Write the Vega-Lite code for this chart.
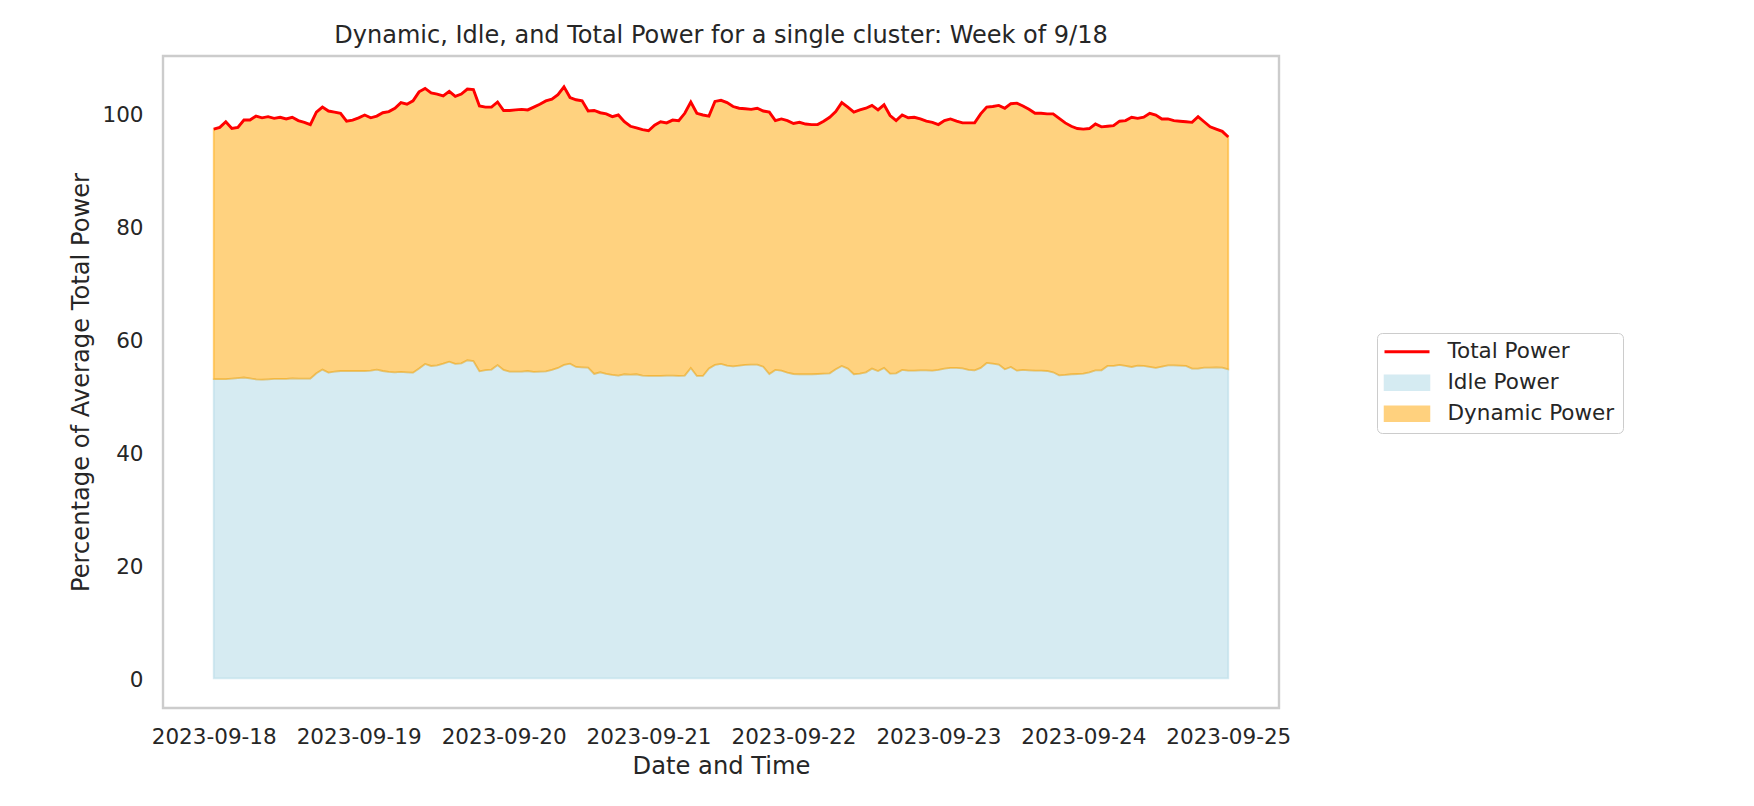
{
  "$schema": "https://vega.github.io/schema/vega-lite/v6.json",
  "width": 1116,
  "height": 652,
  "autosize": {"type": "none"},
  "padding": {"left": 163, "top": 56, "right": 475, "bottom": 98},
  "background": "white",
  "title": {
    "text": "Dynamic, Idle, and Total Power for a single cluster: Week of 9/18",
    "anchor": "middle",
    "frame": "group",
    "baseline": "alphabetic",
    "offset": -11,
    "font": "DejaVu Sans",
    "fontSize": 24,
    "fontWeight": "normal",
    "color": "#262626"
  },
  "config": {
    "view": {"stroke": "#cccccc", "strokeWidth": 2.4},
    "font": "DejaVu Sans",
    "axis": {
      "labelFont": "DejaVu Sans",
      "titleFont": "DejaVu Sans",
      "labelColor": "#262626",
      "titleColor": "#262626",
      "labelFontSize": 21.5,
      "titleFontSize": 24.2,
      "titleFontWeight": "normal",
      "grid": false,
      "domain": false,
      "ticks": false,
      "tickSize": 0,
      "labelFlush": false,
      "labelOverlap": false
    }
  },
  "data": {
    "values": [
      {"t": "2023-09-18T00:00", "total": 97.3, "idle": 53.0},
      {"t": "2023-09-18T01:00", "total": 97.6, "idle": 53.0},
      {"t": "2023-09-18T02:00", "total": 98.6, "idle": 53.0},
      {"t": "2023-09-18T03:00", "total": 97.4, "idle": 53.1},
      {"t": "2023-09-18T04:00", "total": 97.6, "idle": 53.2},
      {"t": "2023-09-18T05:00", "total": 98.9, "idle": 53.3},
      {"t": "2023-09-18T06:00", "total": 98.9, "idle": 53.15},
      {"t": "2023-09-18T07:00", "total": 99.6, "idle": 52.97},
      {"t": "2023-09-18T08:00", "total": 99.3, "idle": 52.92},
      {"t": "2023-09-18T09:00", "total": 99.5, "idle": 52.97},
      {"t": "2023-09-18T10:00", "total": 99.2, "idle": 53.04},
      {"t": "2023-09-18T11:00", "total": 99.4, "idle": 53.04},
      {"t": "2023-09-18T12:00", "total": 99.1, "idle": 53.04},
      {"t": "2023-09-18T13:00", "total": 99.4, "idle": 53.15},
      {"t": "2023-09-18T14:00", "total": 98.8, "idle": 53.1},
      {"t": "2023-09-18T15:00", "total": 98.5, "idle": 53.1},
      {"t": "2023-09-18T16:00", "total": 98.1, "idle": 53.1},
      {"t": "2023-09-18T17:00", "total": 100.3, "idle": 54.04},
      {"t": "2023-09-18T18:00", "total": 101.2, "idle": 54.7},
      {"t": "2023-09-18T19:00", "total": 100.5, "idle": 54.16},
      {"t": "2023-09-18T20:00", "total": 100.3, "idle": 54.34},
      {"t": "2023-09-18T21:00", "total": 100.1, "idle": 54.45},
      {"t": "2023-09-18T22:00", "total": 98.7, "idle": 54.45},
      {"t": "2023-09-18T23:00", "total": 98.9, "idle": 54.45},
      {"t": "2023-09-19T00:00", "total": 99.3, "idle": 54.45},
      {"t": "2023-09-19T01:00", "total": 99.8, "idle": 54.45},
      {"t": "2023-09-19T02:00", "total": 99.3, "idle": 54.51},
      {"t": "2023-09-19T03:00", "total": 99.6, "idle": 54.7},
      {"t": "2023-09-19T04:00", "total": 100.2, "idle": 54.45},
      {"t": "2023-09-19T05:00", "total": 100.4, "idle": 54.28},
      {"t": "2023-09-19T06:00", "total": 101.0, "idle": 54.22},
      {"t": "2023-09-19T07:00", "total": 102.0, "idle": 54.28},
      {"t": "2023-09-19T08:00", "total": 101.7, "idle": 54.22},
      {"t": "2023-09-19T09:00", "total": 102.3, "idle": 54.16},
      {"t": "2023-09-19T10:00", "total": 103.9, "idle": 54.9},
      {"t": "2023-09-19T11:00", "total": 104.5, "idle": 55.7},
      {"t": "2023-09-19T12:00", "total": 103.7, "idle": 55.34},
      {"t": "2023-09-19T13:00", "total": 103.5, "idle": 55.46},
      {"t": "2023-09-19T14:00", "total": 103.2, "idle": 55.75},
      {"t": "2023-09-19T15:00", "total": 104.0, "idle": 56.1},
      {"t": "2023-09-19T16:00", "total": 103.1, "idle": 55.7},
      {"t": "2023-09-19T17:00", "total": 103.5, "idle": 55.8},
      {"t": "2023-09-19T18:00", "total": 104.4, "idle": 56.35},
      {"t": "2023-09-19T19:00", "total": 104.3, "idle": 56.2},
      {"t": "2023-09-19T20:00", "total": 101.4, "idle": 54.4},
      {"t": "2023-09-19T21:00", "total": 101.2, "idle": 54.6},
      {"t": "2023-09-19T22:00", "total": 101.2, "idle": 54.7},
      {"t": "2023-09-19T23:00", "total": 102.1, "idle": 55.5},
      {"t": "2023-09-20T00:00", "total": 100.6, "idle": 54.63},
      {"t": "2023-09-20T01:00", "total": 100.6, "idle": 54.34},
      {"t": "2023-09-20T02:00", "total": 100.7, "idle": 54.34},
      {"t": "2023-09-20T03:00", "total": 100.8, "idle": 54.34},
      {"t": "2023-09-20T04:00", "total": 100.7, "idle": 54.45},
      {"t": "2023-09-20T05:00", "total": 101.2, "idle": 54.28},
      {"t": "2023-09-20T06:00", "total": 101.7, "idle": 54.34},
      {"t": "2023-09-20T07:00", "total": 102.3, "idle": 54.4},
      {"t": "2023-09-20T08:00", "total": 102.6, "idle": 54.63},
      {"t": "2023-09-20T09:00", "total": 103.4, "idle": 54.99},
      {"t": "2023-09-20T10:00", "total": 104.8, "idle": 55.52},
      {"t": "2023-09-20T11:00", "total": 102.9, "idle": 55.75},
      {"t": "2023-09-20T12:00", "total": 102.5, "idle": 55.16},
      {"t": "2023-09-20T13:00", "total": 102.3, "idle": 55.1},
      {"t": "2023-09-20T14:00", "total": 100.5, "idle": 55.05},
      {"t": "2023-09-20T15:00", "total": 100.6, "idle": 53.92},
      {"t": "2023-09-20T16:00", "total": 100.2, "idle": 54.22},
      {"t": "2023-09-20T17:00", "total": 100.0, "idle": 53.92},
      {"t": "2023-09-20T18:00", "total": 99.5, "idle": 53.75},
      {"t": "2023-09-20T19:00", "total": 99.8, "idle": 53.63},
      {"t": "2023-09-20T20:00", "total": 98.6, "idle": 53.87},
      {"t": "2023-09-20T21:00", "total": 97.8, "idle": 53.8},
      {"t": "2023-09-20T22:00", "total": 97.5, "idle": 53.87},
      {"t": "2023-09-20T23:00", "total": 97.2, "idle": 53.63},
      {"t": "2023-09-21T00:00", "total": 97.0, "idle": 53.57},
      {"t": "2023-09-21T01:00", "total": 98.0, "idle": 53.57},
      {"t": "2023-09-21T02:00", "total": 98.6, "idle": 53.57},
      {"t": "2023-09-21T03:00", "total": 98.4, "idle": 53.63},
      {"t": "2023-09-21T04:00", "total": 98.9, "idle": 53.63},
      {"t": "2023-09-21T05:00", "total": 98.8, "idle": 53.57},
      {"t": "2023-09-21T06:00", "total": 100.1, "idle": 53.63},
      {"t": "2023-09-21T07:00", "total": 102.1, "idle": 55.0},
      {"t": "2023-09-21T08:00", "total": 100.1, "idle": 53.57},
      {"t": "2023-09-21T09:00", "total": 99.8, "idle": 53.57},
      {"t": "2023-09-21T10:00", "total": 99.6, "idle": 54.9},
      {"t": "2023-09-21T11:00", "total": 102.2, "idle": 55.52},
      {"t": "2023-09-21T12:00", "total": 102.4, "idle": 55.7},
      {"t": "2023-09-21T13:00", "total": 102.0, "idle": 55.4},
      {"t": "2023-09-21T14:00", "total": 101.3, "idle": 55.28},
      {"t": "2023-09-21T15:00", "total": 101.0, "idle": 55.4},
      {"t": "2023-09-21T16:00", "total": 100.9, "idle": 55.52},
      {"t": "2023-09-21T17:00", "total": 100.8, "idle": 55.58},
      {"t": "2023-09-21T18:00", "total": 101.0, "idle": 55.58},
      {"t": "2023-09-21T19:00", "total": 100.5, "idle": 55.22},
      {"t": "2023-09-21T20:00", "total": 100.3, "idle": 53.9},
      {"t": "2023-09-21T21:00", "total": 98.8, "idle": 54.63},
      {"t": "2023-09-21T22:00", "total": 99.1, "idle": 54.5},
      {"t": "2023-09-21T23:00", "total": 98.8, "idle": 54.16},
      {"t": "2023-09-22T00:00", "total": 98.3, "idle": 53.92},
      {"t": "2023-09-22T01:00", "total": 98.5, "idle": 53.87},
      {"t": "2023-09-22T02:00", "total": 98.2, "idle": 53.87},
      {"t": "2023-09-22T03:00", "total": 98.1, "idle": 53.87},
      {"t": "2023-09-22T04:00", "total": 98.1, "idle": 53.92},
      {"t": "2023-09-22T05:00", "total": 98.7, "idle": 53.98},
      {"t": "2023-09-22T06:00", "total": 99.4, "idle": 54.04},
      {"t": "2023-09-22T07:00", "total": 100.4, "idle": 54.75},
      {"t": "2023-09-22T08:00", "total": 102.0, "idle": 55.34},
      {"t": "2023-09-22T09:00", "total": 101.2, "idle": 54.87},
      {"t": "2023-09-22T10:00", "total": 100.3, "idle": 53.87},
      {"t": "2023-09-22T11:00", "total": 100.7, "idle": 53.98},
      {"t": "2023-09-22T12:00", "total": 101.0, "idle": 54.22},
      {"t": "2023-09-22T13:00", "total": 101.5, "idle": 54.87},
      {"t": "2023-09-22T14:00", "total": 100.7, "idle": 54.45},
      {"t": "2023-09-22T15:00", "total": 101.6, "idle": 54.99},
      {"t": "2023-09-22T16:00", "total": 99.7, "idle": 53.98},
      {"t": "2023-09-22T17:00", "total": 98.8, "idle": 54.04},
      {"t": "2023-09-22T18:00", "total": 99.8, "idle": 54.63},
      {"t": "2023-09-22T19:00", "total": 99.3, "idle": 54.51},
      {"t": "2023-09-22T20:00", "total": 99.4, "idle": 54.51},
      {"t": "2023-09-22T21:00", "total": 99.1, "idle": 54.57},
      {"t": "2023-09-22T22:00", "total": 98.7, "idle": 54.57},
      {"t": "2023-09-22T23:00", "total": 98.5, "idle": 54.51},
      {"t": "2023-09-23T00:00", "total": 98.1, "idle": 54.63},
      {"t": "2023-09-23T01:00", "total": 98.8, "idle": 54.87},
      {"t": "2023-09-23T02:00", "total": 99.1, "idle": 54.99},
      {"t": "2023-09-23T03:00", "total": 98.7, "idle": 54.99},
      {"t": "2023-09-23T04:00", "total": 98.4, "idle": 54.93},
      {"t": "2023-09-23T05:00", "total": 98.4, "idle": 54.63},
      {"t": "2023-09-23T06:00", "total": 98.4, "idle": 54.57},
      {"t": "2023-09-23T07:00", "total": 100.0, "idle": 54.99},
      {"t": "2023-09-23T08:00", "total": 101.2, "idle": 55.87},
      {"t": "2023-09-23T09:00", "total": 101.3, "idle": 55.75},
      {"t": "2023-09-23T10:00", "total": 101.5, "idle": 55.58},
      {"t": "2023-09-23T11:00", "total": 101.0, "idle": 54.75},
      {"t": "2023-09-23T12:00", "total": 101.8, "idle": 55.16},
      {"t": "2023-09-23T13:00", "total": 101.9, "idle": 54.51},
      {"t": "2023-09-23T14:00", "total": 101.4, "idle": 54.63},
      {"t": "2023-09-23T15:00", "total": 100.8, "idle": 54.57},
      {"t": "2023-09-23T16:00", "total": 100.1, "idle": 54.51},
      {"t": "2023-09-23T17:00", "total": 100.1, "idle": 54.51},
      {"t": "2023-09-23T18:00", "total": 100.0, "idle": 54.45},
      {"t": "2023-09-23T19:00", "total": 100.0, "idle": 54.22},
      {"t": "2023-09-23T20:00", "total": 99.2, "idle": 53.69},
      {"t": "2023-09-23T21:00", "total": 98.4, "idle": 53.75},
      {"t": "2023-09-23T22:00", "total": 97.8, "idle": 53.87},
      {"t": "2023-09-23T23:00", "total": 97.4, "idle": 53.92},
      {"t": "2023-09-24T00:00", "total": 97.3, "idle": 53.98},
      {"t": "2023-09-24T01:00", "total": 97.4, "idle": 54.22},
      {"t": "2023-09-24T02:00", "total": 98.2, "idle": 54.57},
      {"t": "2023-09-24T03:00", "total": 97.7, "idle": 54.57},
      {"t": "2023-09-24T04:00", "total": 97.8, "idle": 55.34},
      {"t": "2023-09-24T05:00", "total": 97.9, "idle": 55.34},
      {"t": "2023-09-24T06:00", "total": 98.7, "idle": 55.52},
      {"t": "2023-09-24T07:00", "total": 98.8, "idle": 55.34},
      {"t": "2023-09-24T08:00", "total": 99.4, "idle": 55.16},
      {"t": "2023-09-24T09:00", "total": 99.2, "idle": 55.4},
      {"t": "2023-09-24T10:00", "total": 99.4, "idle": 55.34},
      {"t": "2023-09-24T11:00", "total": 100.1, "idle": 55.16},
      {"t": "2023-09-24T12:00", "total": 99.8, "idle": 54.99},
      {"t": "2023-09-24T13:00", "total": 99.1, "idle": 55.22},
      {"t": "2023-09-24T14:00", "total": 99.1, "idle": 55.46},
      {"t": "2023-09-24T15:00", "total": 98.8, "idle": 55.46},
      {"t": "2023-09-24T16:00", "total": 98.7, "idle": 55.4},
      {"t": "2023-09-24T17:00", "total": 98.6, "idle": 55.34},
      {"t": "2023-09-24T18:00", "total": 98.5, "idle": 54.87},
      {"t": "2023-09-24T19:00", "total": 99.5, "idle": 54.87},
      {"t": "2023-09-24T20:00", "total": 98.6, "idle": 55.05},
      {"t": "2023-09-24T21:00", "total": 97.7, "idle": 55.05},
      {"t": "2023-09-24T22:00", "total": 97.3, "idle": 55.1},
      {"t": "2023-09-24T23:00", "total": 96.9, "idle": 55.05},
      {"t": "2023-09-25T00:00", "total": 95.9, "idle": 54.75}
    ]
  },
  "encoding": {
    "x": {
      "field": "t",
      "type": "temporal",
      "title": "Date and Time",
      "scale": {
        "domain": [
          {"year": 2023, "month": 9, "date": 17, "hours": 15, "minutes": 36},
          {"year": 2023, "month": 9, "date": 25, "hours": 8, "minutes": 24}
        ]
      },
      "axis": {
        "values": [
          {"year": 2023, "month": 9, "date": 18},
          {"year": 2023, "month": 9, "date": 19},
          {"year": 2023, "month": 9, "date": 20},
          {"year": 2023, "month": 9, "date": 21},
          {"year": 2023, "month": 9, "date": 22},
          {"year": 2023, "month": 9, "date": 23},
          {"year": 2023, "month": 9, "date": 24},
          {"year": 2023, "month": 9, "date": 25}
        ],
        "format": "%Y-%m-%d",
        "labelPadding": 18,
        "titleBaseline": "alphabetic",
        "titleY": 65
      }
    }
  },
  "layer": [
    {
      "mark": {
        "type": "area",
        "fillOpacity": 0.5,
        "stroke": "lightblue",
        "strokeOpacity": 0.5,
        "strokeWidth": 1.8
      },
      "encoding": {
        "y": {
          "field": "idle",
          "type": "quantitative",
          "title": "Percentage of Average Total Power",
          "scale": {"domain": [-5.25, 110.25], "nice": false, "zero": false},
          "axis": {
            "values": [0, 20, 40, 60, 80, 100],
            "labelPadding": 20,
            "labelOffset": 2,
            "titleX": -75,
            "titleY": 326,
            "titleAngle": -90,
            "titleAlign": "center",
            "titleBaseline": "alphabetic"
          }
        },
        "y2": {"datum": 0},
        "color": {
          "datum": "Idle Power",
          "type": "nominal",
          "scale": {
            "domain": ["Total Power", "Idle Power", "Dynamic Power"],
            "range": ["red", "lightblue", "orange"]
          },
          "legend": {
            "title": null,
            "orient": "none",
            "legendX": 1214,
            "legendY": 277,
            "padding": 8,
            "rowPadding": 8,
            "labelOffset": 41,
            "symbolSize": 225,
            "symbolType": {"expr": "datum.value === 'Total Power' ? 'M-1.5,0H4.5' : 'M-1.5,-1H4.5V1H-1.5Z'"},
            "symbolOpacity": {"expr": "datum.value === 'Total Power' ? 1 : 0.5"},
            "symbolStrokeWidth": {"expr": "datum.value === 'Total Power' ? 2.9 : 1.5"},
            "labelFont": "DejaVu Sans",
            "labelFontSize": 21.5,
            "labelColor": "#262626",
            "labelLimit": 400,
            "strokeColor": "#cccccc",
            "fillColor": "white",
            "cornerRadius": 5
          }
        }
      }
    },
    {
      "mark": {
        "type": "area",
        "fillOpacity": 0.5,
        "stroke": "orange",
        "strokeOpacity": 0.5,
        "strokeWidth": 1.8
      },
      "encoding": {
        "y": {"field": "total", "type": "quantitative", "title": "Percentage of Average Total Power"},
        "y2": {"field": "idle"},
        "color": {"datum": "Dynamic Power", "type": "nominal"}
      }
    },
    {
      "mark": {"type": "line", "strokeWidth": 2.9},
      "encoding": {
        "y": {"field": "total", "type": "quantitative", "title": "Percentage of Average Total Power"},
        "color": {"datum": "Total Power", "type": "nominal"}
      }
    }
  ]
}
